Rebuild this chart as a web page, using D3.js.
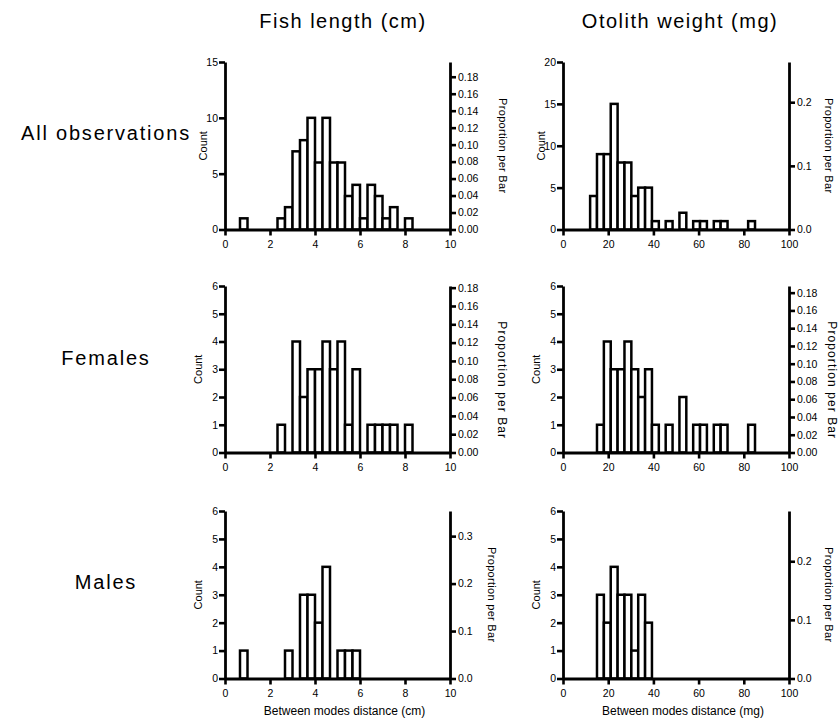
<!DOCTYPE html>
<html>
<head>
<meta charset="utf-8">
<script src="https://cdn.jsdelivr.net/npm/d3@7/dist/d3.min.js"></script>
<style>
  body { margin: 0; background: #fff; }
  text { font-family: "Liberation Sans", Arial, sans-serif; fill: #000; }
</style>
</head>
<body>
<script>
// histogram bins (lower edge of first bin + bin width)
const fishBinStart = 2 / 3, fishBinWidth = 1 / 3;
const otoBinStart = 12, otoBinWidth = 3.04;

// counts per bin
const fishAll     = [1,0,0,0,0,1,2,7,8,10,6,10,6,6,3,4,1,4,3,1,2,0,1];
const fishFemales = [0,0,0,0,0,1,0,4,2,3,3,4,3,4,1,3,0,1,1,1,1,0,1];
const fishMales   = [1,0,0,0,0,0,1,0,3,3,2,4,0,1,1,1,0,0,0,0,0,0,0];

const otoAll     = [4,9,9,15,8,8,4,5,5,1,0,1,0,2,0,1,1,0,1,1,0,0,0,1];
const otoFemales = [0,1,4,3,3,4,3,2,3,1,0,1,0,2,0,1,1,0,1,1,0,0,0,1];
const otoMales   = [0,3,2,4,3,3,1,3,2,0,0,0,0,0,0,0,0,0,0,0,0,0,0,0];

const rowNames = ["All observations", "Females", "Males"];
const colTitles = ["Fish length (cm)", "Otolith weight (mg)"];
const xLabels = ["Between modes distance (cm)", "Between modes distance (mg)"];

const fishXTicks = [0, 2, 4, 6, 8, 10];
const otoXTicks = [0, 20, 40, 60, 80, 100];
const countTicks15 = [0, 5, 10, 15];
const countTicks20 = [0, 5, 10, 15, 20];
const countTicks6 = [0, 1, 2, 3, 4, 5, 6];
const propTicksFine = [0, 0.02, 0.04, 0.06, 0.08, 0.10, 0.12, 0.14, 0.16, 0.18];
const propTicks2 = [0, 0.1, 0.2];
const propTicks3 = [0, 0.1, 0.2, 0.3];

const W = 839, H = 723;
const svg = d3.select("body").append("svg").attr("width", W).attr("height", H);

// layout
const cols = [{left: 225, right: 450}, {left: 563, right: 789}];
const rows = [{top: 62, bottom: 229.5}, {top: 286, bottom: 452.5}, {top: 511, bottom: 678.5}];

const panels = [
  {r: 0, c: 0, counts: fishAll, yMax: 15, yTicks: countTicks15, pTicks: propTicksFine, pFmt: ".2f", countDx: -18, propDx: 49},
  {r: 0, c: 1, counts: otoAll, yMax: 20, yTicks: countTicks20, pTicks: propTicks2, pFmt: ".1f", countDx: -18, propDx: 36},
  {r: 1, c: 0, counts: fishFemales, yMax: 6, yTicks: countTicks6, pTicks: propTicksFine, pFmt: ".2f", countDx: -23, propDx: 48},
  {r: 1, c: 1, counts: otoFemales, yMax: 6, yTicks: countTicks6, pTicks: propTicksFine, pFmt: ".2f", countDx: -23, propDx: 39},
  {r: 2, c: 0, counts: fishMales, yMax: 6, yTicks: countTicks6, pTicks: propTicks3, pFmt: ".1f", countDx: -23, propDx: 38},
  {r: 2, c: 1, counts: otoMales, yMax: 6, yTicks: countTicks6, pTicks: propTicks2, pFmt: ".1f", countDx: -23, propDx: 36}
];

function styleAxis(g, fs) {
  g.select(".domain").attr("stroke", "#000").attr("stroke-width", 2.8);
  g.selectAll(".tick line").attr("stroke", "#000").attr("stroke-width", 2.6);
  g.selectAll(".tick text").attr("font-size", fs).attr("font-family", null).attr("fill", "#000");
}

panels.forEach(function (p) {
  const col = cols[p.c], row = rows[p.r];
  const fish = p.c === 0;
  const start = fish ? fishBinStart : otoBinStart;
  const bw = fish ? fishBinWidth : otoBinWidth;

  const x = d3.scaleLinear().domain([0, fish ? 10 : 100]).range([col.left, col.right]);
  const y = d3.scaleLinear().domain([0, p.yMax]).range([row.bottom, row.top]);
  const n = d3.sum(p.counts);
  const yP = d3.scaleLinear().domain([0, p.yMax / n]).range([row.bottom, row.top]);

  const g = svg.append("g");

  const bins = p.counts.map(function (c, i) { return {c: c, x0: start + i * bw, x1: start + (i + 1) * bw}; })
    .filter(function (d) { return d.c > 0; });

  g.selectAll("rect").data(bins).join("rect")
    .attr("x", function (d) { return x(d.x0); })
    .attr("width", function (d) { return x(d.x1) - x(d.x0); })
    .attr("y", function (d) { return y(d.c); })
    .attr("height", function (d) { return y(0) - y(d.c); })
    .attr("fill", "#fff")
    .attr("stroke", "#000")
    .attr("stroke-width", 2.5);

  const fs = 10.5;

  g.append("g")
    .attr("transform", "translate(0," + row.bottom + ")")
    .call(d3.axisBottom(x).tickValues(fish ? fishXTicks : otoXTicks).tickFormat(d3.format("d"))
      .tickSize(6).tickSizeOuter(0).tickPadding(5))
    .call(styleAxis, fs);

  g.append("g")
    .attr("transform", "translate(" + col.left + ",0)")
    .call(d3.axisLeft(y).tickValues(p.yTicks).tickFormat(d3.format("d"))
      .tickSize(6).tickSizeOuter(0).tickPadding(1))
    .call(styleAxis, fs);

  g.append("g")
    .attr("transform", "translate(" + col.right + ",0)")
    .call(d3.axisRight(yP).tickValues(p.pTicks).tickFormat(d3.format(p.pFmt))
      .tickSize(6).tickSizeOuter(0).tickPadding(2))
    .call(styleAxis, fs);

  // axis titles
  const cy = (row.top + row.bottom) / 2;
  g.append("text")
    .attr("transform", "translate(" + (col.left + p.countDx) + "," + cy + ") rotate(-90)")
    .attr("text-anchor", "middle")
    .attr("font-size", 11)
    .text("Count");

  const big = p.r === 1;
  g.append("text")
    .attr("transform", "translate(" + (col.right + p.propDx) + "," + (cy + (big ? 11 : 0)) + ") rotate(90)")
    .attr("text-anchor", "middle")
    .attr("font-size", big ? 12 : 11)
    .attr("letter-spacing", big ? 1.1 : 0.3)
    .text("Proportion per Bar");

  if (p.r === 2) {
    g.append("text")
      .attr("x", (col.left + col.right) / 2 + 7)
      .attr("y", 715)
      .attr("text-anchor", "middle")
      .attr("font-size", 12)
      .text(xLabels[p.c]);
  }
});

// column titles
svg.selectAll(".coltitle").data(colTitles).join("text")
  .attr("class", "coltitle")
  .attr("x", function (d, i) { return i === 0 ? 343 : 680; })
  .attr("y", 28)
  .attr("text-anchor", "middle")
  .attr("font-size", 20)
  .attr("letter-spacing", 1.5)
  .text(function (d) { return d; });

// row names
svg.selectAll(".rowname").data(rowNames).join("text")
  .attr("class", "rowname")
  .attr("x", 106)
  .attr("y", function (d, i) { return [140, 365, 589][i]; })
  .attr("text-anchor", "middle")
  .attr("font-size", 20)
  .attr("letter-spacing", 1.8)
  .text(function (d) { return d; });
</script>
</body>
</html>
